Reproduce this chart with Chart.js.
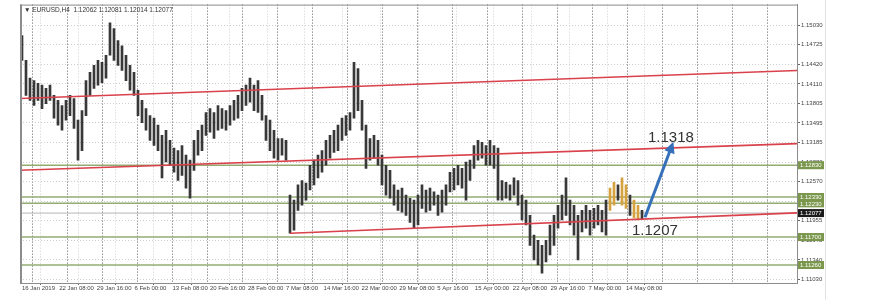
<!DOCTYPE html>
<html>
<head>
<meta charset="utf-8">
<script src="https://cdn.jsdelivr.net/npm/chart.js@4.4.1/dist/chart.umd.min.js"></script>
<style>
  html, body { margin: 0; padding: 0; background: #fff; }
  #wrap { width: 870px; height: 300px; }
</style>
</head>
<body>
<div id="wrap"><canvas id="grafico" width="870" height="300"></canvas></div>
<script>
// EURUSD H4: máximo y mínimo de cada grupo de velas
const maximos = [
  1.1487, 1.1448, 1.1420, 1.1416, 1.1412, 1.1409, 1.1404, 1.1409, 1.1393, 1.1385,
  1.1377, 1.1385, 1.1393, 1.1388, 1.1354, 1.1369, 1.1416, 1.1429, 1.1440, 1.1448,
  1.1445, 1.1456, 1.1507, 1.1498, 1.1479, 1.1471, 1.1456, 1.1440, 1.1429, 1.1401,
  1.1385, 1.1372, 1.1361, 1.1357, 1.1346, 1.1330, 1.1338, 1.1322, 1.1310, 1.1306,
  1.1314, 1.1299, 1.1291, 1.1322, 1.1338, 1.1346, 1.1366, 1.1372, 1.1366, 1.1377,
  1.1372, 1.1369, 1.1377, 1.1385, 1.1393, 1.1404, 1.1409, 1.1420, 1.1409, 1.1416,
  1.1393, 1.1361, 1.1354, 1.1338, 1.1325, 1.1325, 1.1322, 1.1236, 1.1228, 1.1252,
  1.1259, 1.1255, 1.1283, 1.1291, 1.1299, 1.1306, 1.1322, 1.1330, 1.1338, 1.1346,
  1.1357, 1.1361, 1.1366, 1.1445, 1.1435, 1.1385, 1.1346, 1.1325, 1.1330, 1.1322,
  1.1299, 1.1283, 1.1275, 1.1252, 1.1244, 1.1247, 1.1236, 1.1231, 1.1228, 1.1236,
  1.1252, 1.1244, 1.1247, 1.1241, 1.1236, 1.1244, 1.1252, 1.1272, 1.1278, 1.1283,
  1.1278, 1.1288, 1.1291, 1.1314, 1.1322, 1.1319, 1.1314, 1.1322, 1.1314, 1.1310,
  1.1259, 1.1256, 1.1252, 1.1263, 1.1259, 1.1236, 1.1228, 1.1204, 1.1173, 1.1165,
  1.1157, 1.1165, 1.1189, 1.1204, 1.1220, 1.1236, 1.1263, 1.1228, 1.1220, 1.1204,
  1.1212, 1.1220, 1.1212, 1.1215, 1.1220, 1.1212, 1.1228, 1.1247, 1.1256, 1.1252,
  1.1263, 1.1252, 1.1236, 1.1228, 1.1220, 1.1212
];
const minimos = [
  1.1448, 1.1393, 1.1385, 1.1377, 1.1385, 1.1372, 1.1380, 1.1385, 1.1357, 1.1346,
  1.1338, 1.1354, 1.1361, 1.1341, 1.1291, 1.1306, 1.1361, 1.1393, 1.1404, 1.1409,
  1.1413, 1.1420, 1.1456, 1.1448, 1.1440, 1.1432, 1.1416, 1.1401, 1.1393, 1.1361,
  1.1350, 1.1338, 1.1322, 1.1314, 1.1306, 1.1263, 1.1288, 1.1283, 1.1272, 1.1259,
  1.1267, 1.1247, 1.1231, 1.1275, 1.1299, 1.1306, 1.1330, 1.1335, 1.1325, 1.1338,
  1.1341, 1.1338, 1.1346, 1.1354, 1.1357, 1.1369, 1.1377, 1.1382, 1.1369, 1.1366,
  1.1354, 1.1322, 1.1306, 1.1294, 1.1291, 1.1299, 1.1291, 1.1176, 1.1181, 1.1212,
  1.1220, 1.1228, 1.1244, 1.1252, 1.1263, 1.1272, 1.1283, 1.1294, 1.1303, 1.1306,
  1.1322, 1.1330, 1.1338, 1.1357, 1.1369, 1.1338, 1.1278, 1.1291, 1.1294, 1.1283,
  1.1252, 1.1236, 1.1231, 1.1220, 1.1212, 1.1209, 1.1204, 1.1193, 1.1184, 1.1189,
  1.1215, 1.1209, 1.1212, 1.1220, 1.1204, 1.1209, 1.1220, 1.1241, 1.1244, 1.1252,
  1.1247, 1.1228, 1.1259, 1.1278, 1.1291, 1.1294, 1.1283, 1.1283, 1.1278, 1.1228,
  1.1228, 1.1231, 1.1228, 1.1236, 1.1220, 1.1197, 1.1189, 1.1157, 1.1134, 1.1126,
  1.1113, 1.1131, 1.1142, 1.1157, 1.1184, 1.1197, 1.1204, 1.1189, 1.1173, 1.1134,
  1.1178, 1.1184, 1.1173, 1.1184, 1.1189, 1.1178, 1.1173, 1.1212, 1.1220, 1.1228,
  1.1220, 1.1215, 1.1204, 1.1200, 1.1197, 1.1198
];
const inicioResaltado = 147; // velas naranjas del final

// Eje de tiempo
const etiquetasTiempo = ['16 Jan 2019', '22 Jan 08:00', '29 Jan 16:00', '6 Feb 00:00', '13 Feb 08:00',
  '20 Feb 16:00', '28 Feb 00:00', '7 Mar 08:00', '14 Mar 16:00', '22 Mar 00:00', '29 Mar 08:00',
  '5 Apr 16:00', '15 Apr 00:00', '22 Apr 08:00', '29 Apr 16:00', '7 May 00:00', '14 May 08:00'];
const posTiempo = [0, 9.3, 18.7, 28.1, 37.6, 47.0, 56.5, 66.0, 75.4, 84.9, 94.3, 103.8, 113.2, 122.7, 132.1, 141.6, 151.0];
const separadoresSemana = [7, 15.75, 24.5, 33.25, 42, 50.75, 59.5, 68.25, 77, 85.75, 94.5, 103.25, 112,
  120.75, 129.5, 138.25, 147, 155.75, 164.5, 173.25, 182, 190.75];
const rangoX = [-0.5, 193.75];

// Eje de precios
const preciosEje = [1.15030, 1.14725, 1.14420, 1.14110, 1.13805, 1.13495, 1.13185, 1.12880,
  1.12570, 1.12260, 1.11955, 1.11645, 1.11340, 1.11030];
const rangoY = [1.10977, 1.15357];
const nivelesVerdes = [1.12830, 1.12330, 1.12230, 1.11700, 1.11260];
const precioActual = 1.12077;
const titulo = 'EURUSD,H4  1.12062 1.12081 1.12014 1.12077';

// Canal (líneas rojas) y flecha
const canalSuperior = [[-0.5, 1.1388], [193.75, 1.1432]];
const canalMedio = [[-0.5, 1.1275], [193.75, 1.1317]];
const canalInferior = [[67, 1.1176], [193.75, 1.1208]];
const flecha = [[155.75, 1.1201], [162.5, 1.1314]];
const textos = [
  { texto: '1.1318', x: 156.5, y: 1.1319 },
  { texto: '1.1207', x: 152.5, y: 1.1173 }
];

const aPuntos = pares => pares.map(p => ({ x: p[0], y: p[1] }));

const coloresVelas = maximos.map((_, i) => i >= inicioResaltado && i % 3 !== 2 ? '#d6a23e' : '#383838');

function lineaHorizontal(valor, color, ancho) {
  return {
    type: 'line',
    data: [{ x: rangoX[0], y: valor }, { x: rangoX[1], y: valor }],
    borderColor: color, borderWidth: ancho, pointRadius: 0, order: 3
  };
}

const pluginDecoracion = {
  id: 'decoracion',
  beforeDraw(chart) {
    const ctx = chart.ctx;
    ctx.save();
    ctx.fillStyle = '#fff';
    ctx.fillRect(0, 0, chart.width, chart.height);
    ctx.restore();
  },
  afterDatasetsDraw(chart) {
    const { ctx, scales } = chart;
    const x = scales.x, y = scales.y;
    ctx.save();
    // punta de flecha
    const x0 = x.getPixelForValue(flecha[0][0]), y0 = y.getPixelForValue(flecha[0][1]);
    const x1 = x.getPixelForValue(flecha[1][0]), y1 = y.getPixelForValue(flecha[1][1]);
    const ang = Math.atan2(y1 - y0, x1 - x0);
    ctx.fillStyle = '#3570b8';
    ctx.beginPath();
    ctx.moveTo(x1 + Math.cos(ang) * 4, y1 + Math.sin(ang) * 4);
    ctx.lineTo(x1 + Math.cos(ang + 2.5) * 9, y1 + Math.sin(ang + 2.5) * 9);
    ctx.lineTo(x1 + Math.cos(ang - 2.5) * 9, y1 + Math.sin(ang - 2.5) * 9);
    ctx.closePath();
    ctx.fill();
    // textos
    ctx.font = '15px "Liberation Sans"';
    ctx.fillStyle = '#333';
    ctx.textBaseline = 'alphabetic';
    textos.forEach(t => ctx.fillText(t.texto, x.getPixelForValue(t.x), y.getPixelForValue(t.y)));
    ctx.restore();
  },
  afterDraw(chart) {
    const { ctx, chartArea, scales } = chart;
    const y = scales.y;
    ctx.save();
    ctx.strokeStyle = '#8c8c8c';
    ctx.lineWidth = 1;
    ctx.strokeRect(chartArea.left + 0.5, chartArea.top + 0.5, chartArea.right - chartArea.left, chartArea.bottom - chartArea.top);
    ctx.lineWidth = 2;
    ctx.beginPath();
    ctx.moveTo(chartArea.left + 1, chartArea.top);
    ctx.lineTo(chartArea.left + 1, chartArea.bottom);
    ctx.stroke();
    // borde de la ventana
    ctx.strokeStyle = '#e2e2e2';
    ctx.lineWidth = 1;
    ctx.beginPath();
    ctx.moveTo(825.5, 0);
    ctx.lineTo(825.5, chart.height);
    ctx.stroke();
    // título
    ctx.font = '6.5px "Liberation Sans"';
    ctx.fillStyle = '#333';
    ctx.textBaseline = 'middle';
    ctx.fillText('\u25BC ' + titulo, chartArea.left + 4, chartArea.top + 6);
    // etiquetas de niveles en el eje
    ctx.font = '6px "Liberation Sans"';
    const etiqueta = (valor, fondo) => {
      const py = y.getPixelForValue(valor);
      ctx.fillStyle = fondo;
      ctx.fillRect(chartArea.right + 1, py - 4, 26, 8);
      ctx.fillStyle = '#fff';
      ctx.fillText(valor.toFixed(5), chartArea.right + 3, py + 0.5);
    };
    nivelesVerdes.forEach(n => etiqueta(n, '#7a974c'));
    etiqueta(precioActual, '#1a1a1a');
    ctx.restore();
  }
};

const fuenteEje = { family: 'Liberation Sans', size: 6 };

new Chart(document.getElementById('grafico'), {
  type: 'bar',
  data: {
    datasets: [
      {
        type: 'bar',
        data: maximos.map((h, i) => ({ x: i, y: [minimos[i], h] })),
        backgroundColor: coloresVelas,
        barThickness: 2,
        grouped: false,
        order: 2
      },
      ...nivelesVerdes.map(n => lineaHorizontal(n, '#93ab72', 1.5)),
      lineaHorizontal(precioActual, '#b5b5b5', 1),
      { type: 'line', data: aPuntos(canalSuperior), borderColor: '#d9414b', borderWidth: 1.6, pointRadius: 0, order: 1 },
      { type: 'line', data: aPuntos(canalMedio), borderColor: '#d9414b', borderWidth: 1.6, pointRadius: 0, order: 1 },
      { type: 'line', data: aPuntos(canalInferior), borderColor: '#d9414b', borderWidth: 1.6, pointRadius: 0, order: 1 },
      { type: 'line', data: aPuntos(flecha), borderColor: '#3570b8', borderWidth: 3, pointRadius: 0, order: 0 }
    ]
  },
  options: {
    responsive: false,
    animation: false,
    layout: { padding: { left: 20, top: 4, right: 0, bottom: 0 } },
    plugins: { legend: { display: false }, tooltip: { enabled: false } },
    scales: {
      x: {
        type: 'linear',
        position: 'bottom',
        min: rangoX[0],
        max: rangoX[1],
        offset: false,
        afterBuildTicks: s => { s.ticks = posTiempo.map(v => ({ value: v })); },
        afterFit: s => { s.height = 17; },
        ticks: {
          callback: (v, i) => etiquetasTiempo[i],
          autoSkip: false, maxRotation: 0, align: 'start', padding: 0,
          font: fuenteEje, color: '#444'
        },
        grid: { color: '#cdcdcd', tickColor: '#666', tickLength: 2, tickBorderDash: [] },
        border: { color: '#8c8c8c', dash: [1, 2] }
      },
      semanas: {
        type: 'linear',
        position: 'bottom',
        min: rangoX[0],
        max: rangoX[1],
        offset: false,
        afterBuildTicks: s => { s.ticks = separadoresSemana.map(v => ({ value: v })); },
        afterFit: s => { s.height = 0; },
        ticks: { display: false },
        grid: { color: '#5a5a5a', drawTicks: false },
        border: { display: false, dash: [1, 2] }
      },
      y: {
        type: 'linear',
        position: 'right',
        min: rangoY[0],
        max: rangoY[1],
        afterBuildTicks: s => { s.ticks = preciosEje.map(v => ({ value: v })); },
        afterFit: s => { s.width = 73; },
        ticks: {
          callback: v => v.toFixed(5),
          padding: 1, font: fuenteEje, color: '#444'
        },
        grid: { color: '#cdcdcd', tickColor: '#666', tickLength: 3, tickBorderDash: [] },
        border: { color: '#8c8c8c', dash: [1, 2] }
      }
    }
  },
  plugins: [pluginDecoracion]
});
</script>
</body>
</html>
